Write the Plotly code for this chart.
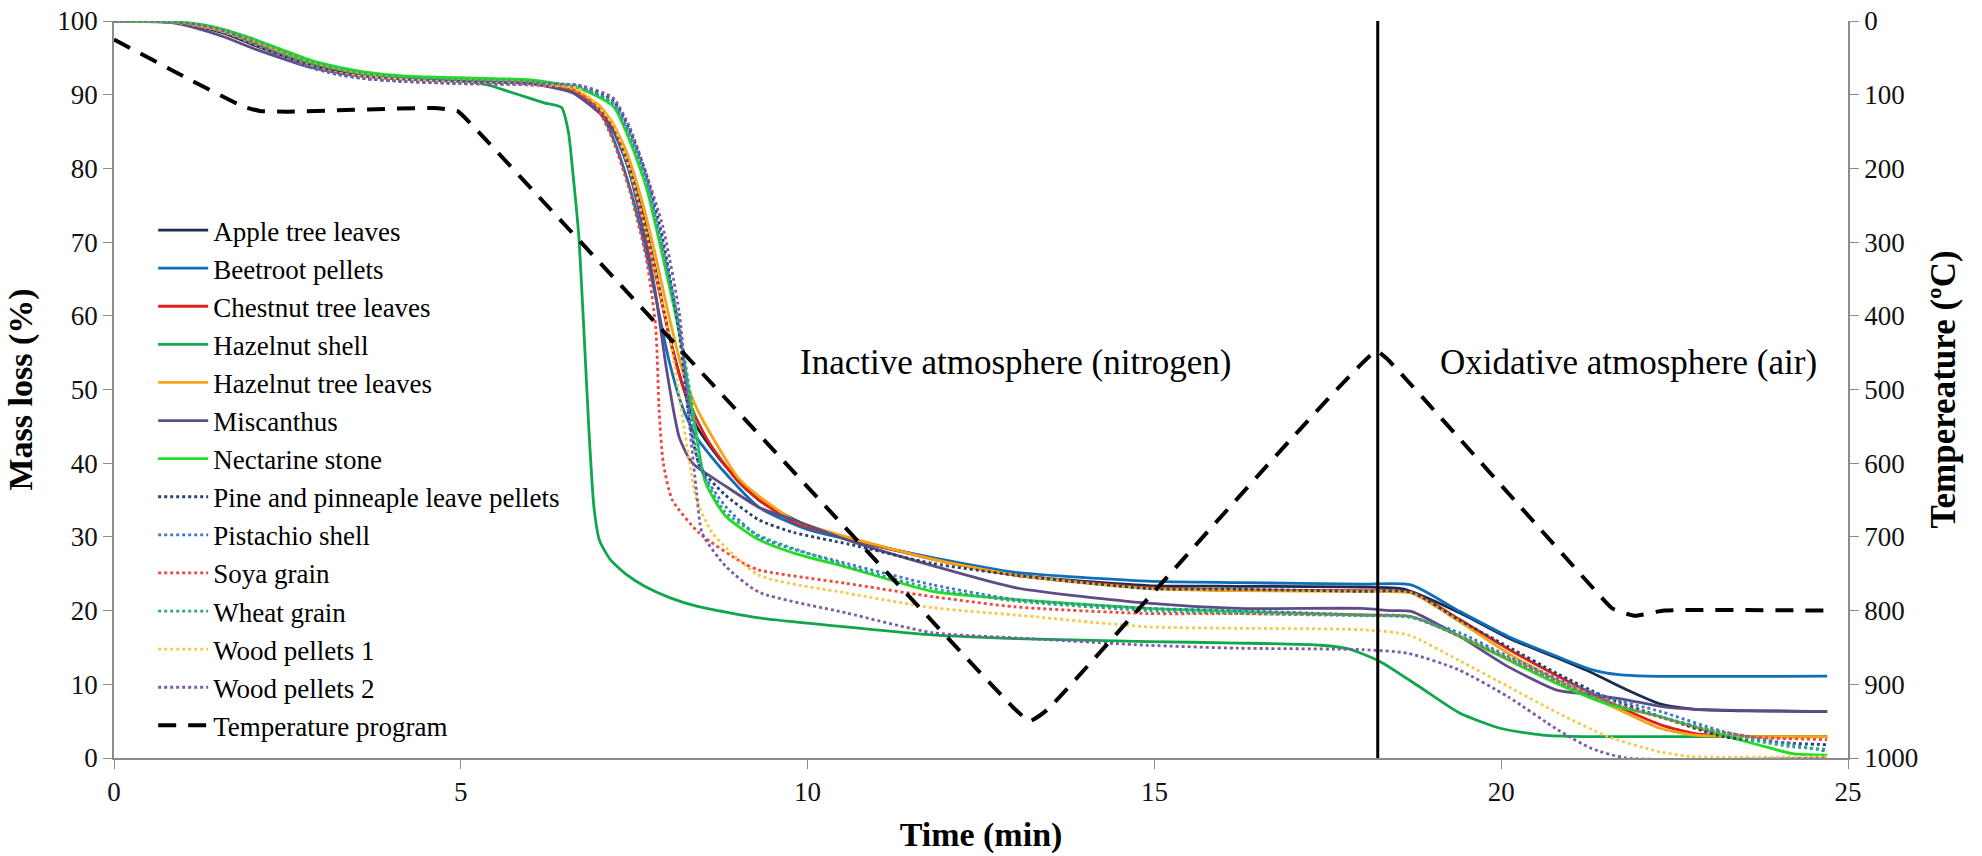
import plotly.graph_objects as go

# ---------------- data ----------------
apple_t = [0, 0.8, 1.2, 1.6, 2.0, 2.4, 2.8, 3.2, 3.6, 4.2, 5.0, 6.0, 6.6, 7.0, 7.2, 7.4, 7.6, 7.8, 8.0, 8.2, 8.4, 8.8, 9.3, 10.0, 10.6, 11.8, 13.0, 14.9, 16.2, 18.0, 18.6, 19.4, 20.1, 20.8, 21.3, 21.8, 22.3, 22.8, 23.5, 24.7]
apple_m = [100, 99.9, 99.3, 98.3, 96.8, 95.4, 94.2, 93.3, 92.7, 92.2, 91.9, 91.5, 90.5, 88.0, 85.5, 81.0, 74.5, 66.5, 57.5, 50.5, 45.0, 39.8, 35.0, 31.5, 29.7, 27.1, 24.8, 23.4, 23.3, 23.2, 22.9, 19.7, 16.3, 13.6, 11.6, 9.3, 7.3, 6.6, 6.4, 6.3]

beet_t = [0, 0.8, 1.2, 1.6, 2.0, 2.4, 2.8, 3.2, 3.6, 4.2, 5.0, 6.0, 6.6, 7.0, 7.2, 7.4, 7.6, 7.8, 8.0, 8.2, 8.4, 8.8, 9.3, 10.0, 10.6, 11.8, 13.0, 14.9, 16.2, 18.0, 18.7, 19.4, 20.1, 20.8, 21.3, 21.7, 22.1, 24.7]
beet_m = [100, 99.9, 99.4, 98.5, 97.1, 95.7, 94.4, 93.5, 92.8, 92.3, 92.0, 91.7, 90.6, 87.8, 84.0, 78.5, 71.5, 63.0, 54.0, 47.5, 43.5, 38.8, 34.0, 31.0, 29.6, 27.2, 25.2, 24.0, 23.8, 23.6, 23.5, 19.9, 16.5, 13.8, 12.0, 11.3, 11.1, 11.1]

chest_t = [0, 0.8, 1.2, 1.6, 2.0, 2.4, 2.8, 3.2, 3.6, 4.2, 5.0, 6.0, 6.6, 7.0, 7.2, 7.4, 7.6, 7.8, 8.0, 8.2, 8.4, 8.6, 9.0, 9.3, 9.8, 10.6, 11.8, 13.0, 14.9, 16.2, 18.0, 18.7, 19.4, 20.1, 20.8, 21.3, 21.8, 22.3, 22.8, 23.5, 24.7]
chest_m = [100, 99.9, 99.4, 98.5, 97.1, 95.7, 94.5, 93.5, 92.8, 92.3, 92.0, 91.7, 90.7, 88.2, 85.5, 80.5, 74.0, 66.0, 57.5, 50.5, 46.0, 42.5, 37.5, 35.0, 32.0, 29.8, 27.0, 24.8, 23.1, 22.8, 22.7, 22.5, 18.8, 14.8, 11.2, 8.8, 6.5, 4.5, 3.3, 2.9, 2.9]

hshell_t = [0, 0.8, 1.2, 1.6, 2.0, 2.4, 2.8, 3.2, 3.6, 4.2, 5.0, 5.4, 5.7, 6.0, 6.2, 6.45, 6.55, 6.62, 6.7, 6.78, 6.85, 6.92, 7.0, 7.15, 7.4, 7.65, 8.0, 8.4, 9.3, 10.0, 11.8, 13.0, 14.9, 16.2, 17.4, 17.8, 18.25, 18.8, 19.4, 20.0, 20.6, 21.2, 24.7]
hshell_m = [100, 99.9, 99.4, 98.5, 97.1, 95.7, 94.4, 93.5, 92.8, 92.2, 91.9, 91.3, 90.4, 89.5, 88.9, 88.3, 85.0, 79.0, 71.0, 57.0, 44.0, 34.0, 29.5, 27.0, 24.8, 23.3, 21.8, 20.6, 19.0, 18.3, 16.7, 16.2, 15.8, 15.6, 15.3, 14.8, 13.1, 9.8, 6.1, 4.0, 3.1, 2.9, 2.9]

hleaf_t = [0, 0.8, 1.2, 1.6, 2.0, 2.4, 2.8, 3.2, 3.6, 4.2, 5.0, 6.0, 6.6, 7.0, 7.2, 7.4, 7.6, 7.8, 8.0, 8.2, 8.4, 8.6, 9.0, 9.3, 9.8, 10.6, 11.8, 13.0, 14.9, 16.2, 18.0, 18.7, 19.4, 20.1, 20.8, 21.3, 21.8, 22.3, 22.8, 23.5, 24.7]
hleaf_m = [100, 99.9, 99.4, 98.6, 97.3, 95.9, 94.6, 93.6, 92.9, 92.4, 92.1, 91.8, 90.8, 88.5, 86.0, 82.0, 76.0, 68.5, 60.0, 52.5, 47.5, 44.0, 38.0, 35.5, 32.3, 29.9, 27.0, 24.8, 23.0, 22.7, 22.6, 22.4, 18.5, 14.2, 10.6, 8.3, 6.1, 4.0, 3.1, 2.9, 2.9]

misc_t = [0, 0.8, 1.2, 1.6, 2.0, 2.4, 2.8, 3.2, 3.6, 4.2, 5.0, 6.0, 6.6, 7.0, 7.2, 7.4, 7.6, 7.8, 7.96, 8.15, 8.34, 8.8, 9.3, 9.8, 10.6, 11.8, 13.0, 14.9, 16.2, 18.0, 18.4, 18.7, 19.4, 20.1, 20.8, 21.3, 21.8, 22.3, 22.8, 24.7]
misc_m = [100, 99.8, 99.0, 97.8, 96.3, 95.0, 93.8, 93.0, 92.5, 92.1, 91.8, 91.5, 90.3, 87.5, 85.0, 80.5, 73.0, 63.5, 53.1, 43.5, 40.0, 37.0, 34.0, 32.3, 29.5, 26.1, 23.1, 21.0, 20.3, 20.3, 20.0, 19.9, 16.5, 12.4, 9.2, 8.6, 7.9, 7.0, 6.6, 6.3]

nect_t = [0, 0.8, 1.2, 1.6, 2.0, 2.4, 2.8, 3.2, 3.6, 4.2, 5.0, 6.0, 6.7, 7.2, 7.43, 7.67, 7.91, 8.15, 8.39, 8.53, 8.82, 9.3, 9.8, 10.6, 11.8, 13.0, 14.9, 16.2, 18.0, 18.7, 19.4, 20.1, 20.8, 21.5, 22.3, 23.0, 23.7, 24.2, 24.7]
nect_m = [100, 99.9, 99.6, 98.8, 97.6, 96.2, 94.8, 93.8, 93.1, 92.5, 92.3, 92.0, 90.9, 88.4, 83.9, 77.6, 68.1, 57.7, 44.1, 37.3, 32.8, 29.6, 27.8, 25.8, 22.6, 21.5, 20.3, 19.9, 19.4, 19.2, 16.5, 13.3, 10.1, 7.4, 5.6, 3.6, 1.8, 0.6, 0.4]

pine_t = [0, 0.8, 1.2, 1.6, 2.0, 2.4, 2.8, 3.2, 3.6, 4.2, 5.0, 6.0, 6.7, 7.2, 7.43, 7.67, 7.91, 8.15, 8.3, 8.45, 8.8, 9.3, 9.8, 10.6, 11.8, 13.0, 14.9, 16.2, 18.0, 18.7, 19.4, 20.1, 20.8, 21.5, 22.3, 23.2, 24.2, 24.7]
pine_m = [100, 99.9, 99.5, 98.6, 97.0, 95.3, 93.8, 92.8, 92.2, 91.8, 91.6, 91.5, 91.2, 89.2, 85.3, 79.3, 70.5, 57.5, 45.5, 39.5, 35.8, 32.3, 30.6, 29.0, 26.4, 24.8, 23.0, 22.9, 22.6, 22.5, 18.7, 15.1, 11.5, 8.3, 5.6, 2.9, 2.0, 1.8]

pist_t = [0, 0.8, 1.2, 1.6, 2.0, 2.4, 2.8, 3.2, 3.6, 4.2, 5.0, 6.0, 6.7, 7.2, 7.43, 7.67, 7.91, 8.15, 8.3, 8.44, 8.82, 9.3, 9.8, 10.6, 11.8, 13.0, 14.9, 16.2, 18.0, 18.7, 19.4, 20.1, 20.8, 21.5, 22.3, 23.2, 24.2, 24.7]
pist_m = [100, 99.9, 99.5, 98.6, 97.0, 95.3, 93.8, 92.8, 92.2, 91.8, 91.5, 91.4, 91.0, 88.9, 84.8, 78.8, 69.5, 58.5, 47.5, 39.6, 34.1, 30.0, 28.3, 26.3, 23.5, 21.5, 20.3, 20.0, 19.4, 19.1, 17.0, 13.8, 10.8, 8.3, 6.3, 3.6, 1.8, 0.9]

soya_t = [0, 0.8, 1.2, 1.6, 2.0, 2.4, 2.8, 3.2, 3.6, 4.2, 5.0, 6.0, 6.6, 6.95, 7.19, 7.43, 7.67, 7.81, 7.86, 7.92, 8.05, 8.44, 9.06, 9.3, 10.55, 11.8, 13.0, 14.9, 16.2, 18.0, 18.7, 19.4, 20.1, 20.8, 21.5, 22.3, 23.0, 23.7, 24.7]
soya_m = [100, 99.9, 99.4, 98.5, 97.0, 95.4, 94.0, 93.0, 92.4, 92.0, 91.6, 91.3, 90.8, 88.4, 83.9, 77.1, 68.0, 58.5, 47.0, 40.0, 35.0, 30.5, 26.5, 25.5, 23.7, 21.9, 20.5, 19.6, 19.6, 19.4, 19.2, 16.5, 13.5, 10.5, 7.8, 5.5, 3.8, 2.8, 2.5]

wheat_t = [0, 0.8, 1.2, 1.6, 2.0, 2.4, 2.8, 3.2, 3.6, 4.2, 5.0, 6.0, 6.7, 7.19, 7.43, 7.67, 7.91, 8.15, 8.35, 8.5, 8.8, 9.3, 10.6, 11.8, 13.0, 14.9, 16.2, 18.0, 18.7, 19.4, 20.1, 20.8, 21.5, 22.3, 23.0, 23.7, 24.2, 24.7]
wheat_m = [100, 99.9, 99.6, 98.8, 97.5, 96.0, 94.6, 93.6, 92.9, 92.3, 92.0, 91.8, 91.1, 88.8, 84.5, 78.5, 69.0, 58.5, 47.0, 38.5, 33.5, 30.2, 26.0, 23.0, 21.3, 20.0, 19.6, 19.3, 19.1, 16.6, 13.6, 10.4, 7.7, 5.6, 3.9, 2.3, 1.5, 1.2]

wood1_t = [0, 0.8, 1.2, 1.6, 2.0, 2.4, 2.8, 3.2, 3.6, 4.2, 5.0, 6.0, 6.7, 7.19, 7.43, 7.67, 7.9, 8.05, 8.2, 8.3, 8.4, 8.63, 9.3, 10.55, 11.8, 13.0, 14.9, 16.2, 18.0, 18.66, 19.38, 20.1, 20.82, 21.54, 22.26, 22.74, 24.7]
wood1_m = [100, 99.9, 99.4, 98.5, 97.0, 95.4, 94.0, 93.0, 92.4, 92.0, 91.6, 91.4, 90.8, 86.0, 80.0, 71.5, 62.0, 55.0, 46.0, 40.0, 35.0, 30.5, 24.8, 22.4, 20.4, 19.4, 17.8, 17.6, 17.4, 16.7, 13.3, 9.7, 6.1, 2.9, 0.9, 0.2, 0.2]

wood2_t = [0, 0.8, 1.2, 1.6, 2.0, 2.4, 2.8, 3.2, 3.6, 4.2, 5.0, 6.0, 6.7, 7.19, 7.43, 7.67, 7.91, 8.15, 8.3, 8.4, 8.48, 8.82, 9.3, 10.55, 11.8, 13.0, 14.9, 16.2, 18.0, 18.66, 19.38, 20.1, 20.82, 21.3, 21.8, 24.7]
wood2_m = [100, 99.9, 99.5, 98.6, 97.1, 95.4, 93.9, 92.9, 92.2, 91.8, 91.5, 91.4, 91.3, 89.6, 85.7, 79.4, 72.2, 60.4, 45.0, 36.0, 30.5, 26.0, 22.5, 19.7, 17.0, 16.3, 15.3, 14.9, 14.7, 14.2, 12.0, 8.3, 3.8, 1.3, 0.0, 0.0]

temp_t = [0, 1.0, 1.86, 2.1, 2.5, 4.6, 4.95, 5.2, 12.95, 13.2, 13.45, 18.2, 18.35, 21.3, 21.6, 21.92, 22.35, 24.7]
temp_c = [25, 75, 116, 122, 123, 118, 122, 145, 930, 950, 935, 448, 458, 767, 797, 807, 800, 800]

divider_t = 18.22
atmosphere_labels = ["Inactive atmosphere (nitrogen)", "Oxidative atmosphere (air)"]
label_t = [13.0, 21.84]
label_m = [53.7, 53.7]

x_ticks = [0, 5, 10, 15, 20, 25]
y_ticks = list(range(0, 101, 10))
t_ticks = list(range(0, 1001, 100))

series = [
    ("Apple tree leaves", apple_t, apple_m, "#1B2A4E", "solid"),
    ("Beetroot pellets", beet_t, beet_m, "#0E6FB8", "solid"),
    ("Chestnut tree leaves", chest_t, chest_m, "#E0201B", "solid"),
    ("Hazelnut shell", hshell_t, hshell_m, "#10A64A", "solid"),
    ("Hazelnut tree leaves", hleaf_t, hleaf_m, "#F2A516", "solid"),
    ("Miscanthus", misc_t, misc_m, "#5E4C86", "solid"),
    ("Nectarine stone", nect_t, nect_m, "#25DC25", "solid"),
    ("Pine and pinneaple leave pellets", pine_t, pine_m, "#27406E", "dot"),
    ("Pistachio shell", pist_t, pist_m, "#3A7BC8", "dot"),
    ("Soya grain", soya_t, soya_m, "#F0463C", "dot"),
    ("Wheat grain", wheat_t, wheat_m, "#2FA88A", "dot"),
    ("Wood pellets 1", wood1_t, wood1_m, "#F7C948", "dot"),
    ("Wood pellets 2", wood2_t, wood2_m, "#7E5AA8", "dot"),
]

FONT = "Liberation Serif"

fig = go.Figure()
for name, t, m, col, dash in series:
    fig.add_trace(go.Scatter(
        x=t, y=m, name=name, mode="lines",
        line=dict(color=col, width=2.8, dash=dash, shape="spline", smoothing=0.6),
    ))

fig.add_trace(go.Scatter(
    x=temp_t, y=temp_c, name="Temperature program", mode="lines", yaxis="y2",
    line=dict(color="black", width=4, dash="18px,12px", shape="spline", smoothing=0.4),
))

# vertical divider between atmospheres
fig.add_trace(go.Scatter(
    x=[divider_t, divider_t], y=[0, 101.2], mode="lines", showlegend=False,
    line=dict(color="black", width=3), hoverinfo="skip", cliponaxis=False,
))

for txt, lt, lm in zip(atmosphere_labels, label_t, label_m):
    fig.add_annotation(x=lt, y=lm, xref="x", yref="y", text=txt, showarrow=False,
                       font=dict(family=FONT, size=35, color="black"))

axis_common = dict(showline=True, linecolor="#8c8c8c", linewidth=1.5, ticks="outside",
                   tickcolor="#8c8c8c", ticklen=9, tickwidth=1.2, showgrid=False, zeroline=False,
                   automargin=False, ticklabeloverflow="allow",
                   tickfont=dict(family=FONT, size=27, color="#111"))

TITLE_FONT = dict(family=FONT, size=34, color="black")

fig.update_layout(
    template="none",
    width=1982, height=856,
    margin=dict(l=114, r=134, t=21, b=98),
    paper_bgcolor="white", plot_bgcolor="white",
    font=dict(family=FONT, color="black"),
    xaxis=dict(range=[0, 25], tickvals=x_ticks,
               title=dict(text="<b>Time (min)</b>", font=TITLE_FONT, standoff=16),
               **axis_common),
    yaxis=dict(range=[0, 100], tickvals=y_ticks,
               title=dict(text="<b>Mass loss (%)</b>", font=TITLE_FONT, standoff=14),
               **axis_common),
    yaxis2=dict(range=[1000, 0], tickvals=t_ticks, overlaying="y", side="right",
                title=dict(text="<b>Tempereature (ºC)</b>", font=dict(family=FONT, size=35, color="black"),
                           standoff=13),
                **axis_common),
    legend=dict(x=0.0226, y=0.749, xanchor="left", yanchor="top",
                font=dict(family=FONT, size=27, color="black"),
                bgcolor="rgba(255,255,255,0)", borderwidth=0, itemwidth=50,
                traceorder="normal"),
    showlegend=True,
)

# remove the default 8px page margin so the figure fills the window exactly
fig.write_html("out.html", config={"displayModeBar": False},
               post_script="document.body.style.margin='0';")
